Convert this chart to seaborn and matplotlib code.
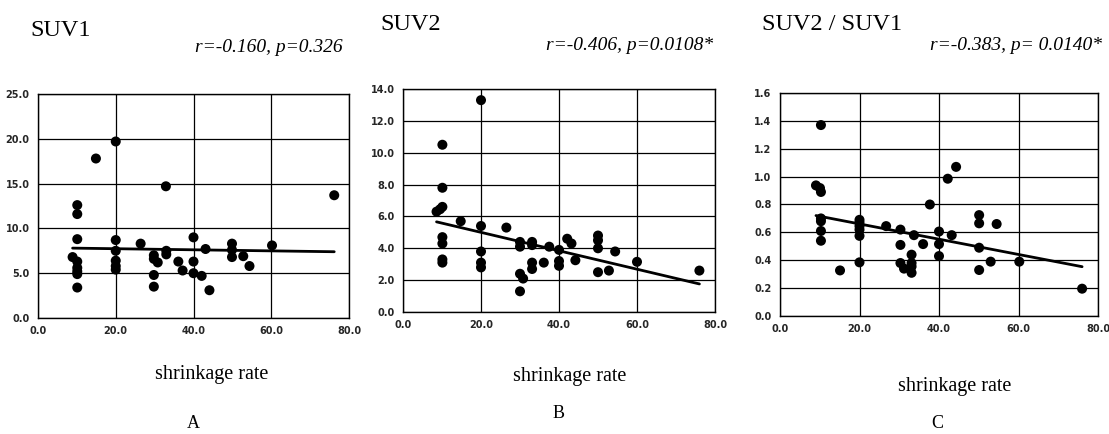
import matplotlib
matplotlib.use("Agg")
import matplotlib.pyplot as plt
import seaborn as sns
import numpy as np

# ---------------- data ----------------
shrink_a = [8.9, 10.1, 10.1, 10.1, 10.1, 10.1, 10.1, 10.1, 10.1,
            14.9, 20, 20, 20, 20, 20, 20,
            26.4, 29.8, 29.8, 30.8, 29.8, 29.8,
            32.9, 33, 33, 36.1, 37.2, 40, 40, 40, 42.1, 43.1, 44.1,
            49.9, 49.9, 49.9, 52.8, 54.4, 60.2, 76.2]
suv1 = [6.8, 6.3, 12.6, 11.6, 8.8, 5.6, 5.2, 4.9, 3.4,
        17.8, 19.7, 8.7, 7.5, 6.4, 5.8, 5.4,
        8.3, 7.0, 6.6, 6.2, 4.8, 3.5,
        14.7, 7.5, 7.1, 6.3, 5.3, 9.0, 6.3, 5.0, 4.7, 7.7, 3.1,
        8.3, 7.6, 6.8, 6.9, 5.8, 8.1, 13.7]

shrink_b = [8.6, 9.5, 10.1, 10.1, 10.1, 10.1, 10.1, 10.1, 10.1,
            14.8, 20, 20, 20, 20, 20,
            26.5, 30, 30, 30, 30.8, 30,
            33.1, 33.1, 33.1, 33.1, 36.1, 37.5,
            40, 40, 40, 42.1, 43.2, 44.2,
            50, 50, 50, 50, 52.8, 54.4, 60, 76]
suv2 = [6.3, 6.45, 6.6, 7.8, 10.5, 4.7, 4.3, 3.3, 3.1,
        5.7, 13.3, 5.4, 3.8, 3.1, 2.8,
        5.3, 4.4, 4.1, 2.4, 2.1, 1.3,
        4.4, 4.2, 3.1, 2.7, 3.1, 4.1,
        3.9, 3.2, 2.9, 4.6, 4.3, 3.25,
        4.8, 4.5, 4.0, 2.5, 2.6, 3.8, 3.15, 2.6]

shrink_c = [9.05, 10.06, 10.3, 10.3, 10.3, 10.3, 10.3, 10.3,
            15.1, 20, 20, 20, 20, 20, 20,
            26.7, 30.3, 30.3, 30.3, 31.2,
            33.1, 33.1, 33.1, 33.1, 33.7, 36, 37.7,
            40, 40, 40, 42.2, 43.2, 44.3,
            50.1, 50.1, 50.1, 50.1, 53, 54.5, 60.2, 76]
ratio = [0.937, 0.918, 0.89, 1.37, 0.70, 0.68, 0.61, 0.54,
         0.327, 0.69, 0.67, 0.645, 0.62, 0.575, 0.385,
         0.645, 0.62, 0.51, 0.38, 0.34,
         0.44, 0.38, 0.355, 0.31, 0.58, 0.516, 0.80,
         0.606, 0.516, 0.43, 0.985, 0.58, 1.07,
         0.724, 0.665, 0.49, 0.33, 0.39, 0.66, 0.39, 0.196]

titles = ["SUV1", "SUV2", "SUV2 / SUV1"]
stats = ["r=-0.160, p=0.326", "r=-0.406, p=0.0108*", "r=-0.383, p= 0.0140*"]
letters = ["A", "B", "C"]
xlabel = "shrinkage rate"
x_ticks = [0, 20, 40, 60, 80]
y_ticks_list = [[0, 5, 10, 15, 20, 25],
                [0, 2, 4, 6, 8, 10, 12, 14],
                [0, 0.2, 0.4, 0.6, 0.8, 1.0, 1.2, 1.4, 1.6]]

# ---------------- figure ----------------
sns.set_theme(style="white")
W, H = 1109, 434
fig = plt.figure(figsize=(W / 100, H / 100), dpi=100)
fig.patch.set_facecolor("white")

def fx(px):
    return px / W

def fy(py):
    return 1 - py / H

# axes boxes in pixel coords: left, right, top, bottom
boxes = [(38, 349, 94, 318), (403, 715, 89, 312), (780, 1098, 93, 316)]
datasets = [(shrink_a, suv1), (shrink_b, suv2), (shrink_c, ratio)]

for i, ((l, r, t, b), (xs, ys)) in enumerate(zip(boxes, datasets)):
    ax = fig.add_axes([fx(l), fy(b), (r - l) / W, (b - t) / H])
    sns.regplot(x=np.array(xs), y=np.array(ys), ax=ax, ci=None, truncate=True,
                scatter_kws=dict(s=52, color="black", edgecolor="none", alpha=1, zorder=3),
                line_kws=dict(color="black", lw=2.0, zorder=4))
    yt = y_ticks_list[i]
    ax.set_xlim(0, 80)
    ax.set_ylim(yt[0], yt[-1])
    ax.set_xticks(x_ticks)
    ax.set_yticks(yt)
    ax.set_xticklabels([f"{v:.1f}" for v in x_ticks], fontsize=7,
                       fontweight="bold", family="DejaVu Sans")
    ax.set_yticklabels([f"{v:.1f}" for v in yt], fontsize=7,
                       fontweight="bold", family="DejaVu Sans")
    ax.tick_params(axis="both", length=0, pad=6)
    ax.grid(True, color="black", lw=0.9)
    ax.set_axisbelow(True)
    for sp in ax.spines.values():
        sp.set_color("black")
        sp.set_linewidth(1.0)
    ax.set_xlabel("")
    ax.set_ylabel("")
    ax.set_facecolor("white")

# titles and annotations (pixel positions)
title_pos = [(30, 30), (380, 24), (762, 24)]
stat_pos = [(343, 47), (713, 46), (1102, 46)]
xlabel_pos = [(212, 375), (570, 376), (955, 386)]
letter_pos = [(193, 424), (559, 414), (937, 423)]

for i in range(3):
    fig.text(fx(title_pos[i][0]), fy(title_pos[i][1]), titles[i], ha="left", va="center",
             fontsize=17.5, family="Liberation Serif", color="black")
    fig.text(fx(stat_pos[i][0]), fy(stat_pos[i][1]), stats[i], ha="right", va="center",
             fontsize=14, family="Liberation Serif", style="italic", color="black")
    fig.text(fx(xlabel_pos[i][0]), fy(xlabel_pos[i][1]), xlabel, ha="center", va="center",
             fontsize=14.5, family="Liberation Serif", color="black")
    fig.text(fx(letter_pos[i][0]), fy(letter_pos[i][1]), letters[i], ha="center", va="center",
             fontsize=13, family="Liberation Serif", color="black")

fig.savefig("out.png", dpi=100, facecolor="white")
